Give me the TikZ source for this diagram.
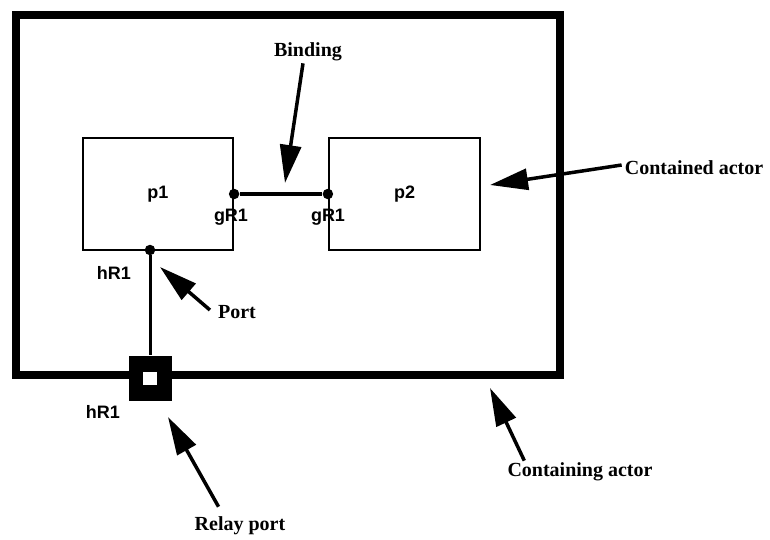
\documentclass[tikz,border=0pt]{standalone}
\usepackage{fontspec}
\setmainfont{Liberation Serif}
\setsansfont{Liberation Sans}
\usetikzlibrary{arrows.meta}
\begin{document}
\begin{tikzpicture}[x=1pt,y=-1pt,
  actorbox/.style={draw, line width=2.2pt, minimum height=112pt, inner sep=0,
    font=\sffamily\bfseries\fontsize{18}{18}\selectfont},
  portdot/.style={circle, fill=black, inner sep=0, minimum size=10.5pt},
  plabel/.style={font=\sffamily\bfseries\fontsize{18}{18}\selectfont, inner sep=0},
  callout/.style={font=\bfseries\fontsize{20}{20}\selectfont, inner sep=0},
  pointer/.style={line width=3.5pt, -{Triangle[length=38pt,width=21pt]}},
]
\useasboundingbox (0,0) rectangle (770,540);
% containing actor
\node[draw, line width=8pt, minimum width=544pt, minimum height=360pt, inner sep=0] (outer) at (288,195) {};
% contained actors
\node[actorbox, minimum width=150pt] (p1) at (158,194) {p1};
\node[actorbox, minimum width=151pt] (p2) at (404.5,194) {p2};
% port labels
\node[plabel] (gl1) at (231,217) {gR1};
\node[plabel] (gl2) at (328,217) {gR1};
\node[plabel] (hl1) at (114,273) {hR1};
\node[plabel] (hl2) at (103,412) {hR1};
% ports
\node[portdot] (g1) at (p1.east) {};
\node[portdot] (g2) at (p2.west) {};
\node[portdot] (h1) at (150,250) {};
% relay port
\node[fill=black, minimum width=43pt, minimum height=45pt, inner sep=0] (relay) at (150,378) {};
\node[fill=white, minimum width=14pt, minimum height=13pt, inner sep=0] (relayin) at (150,378.5) {};
% binding and link
\draw[line width=4pt] (g1) -- (g2);
\draw[line width=3pt] (h1) -- (relay);
% callouts
\node[callout] (binding) at (308,52) {Binding};
\node[callout] (contained) at (694,168) {Contained actor};
\node[callout] (containing) at (580,472) {Containing actor};
\node[callout] (relaylab) at (240,526) {Relay port};
\node[callout] (portlab) at (237,312) {Port};
\coordinate (bindtip) at (285,183);
\coordinate (ctip) at (490,185);
\coordinate (ctgtip) at (490,388);
\coordinate (rtip) at (168,417);
\coordinate (ptip) at (160,267);
\draw[pointer] ([xshift=-5pt,yshift=-2pt]binding.south) -- (bindtip);
\draw[pointer] ([xshift=-3pt,yshift=3pt]contained.west) -- (ctip);
\draw[pointer] ([xshift=17pt,yshift=2pt]containing.north west) -- (ctgtip);
\draw[pointer] ([xshift=24pt,yshift=10pt]relaylab.north west) -- (rtip);
\draw[pointer] ([xshift=-8pt,yshift=2pt]portlab.west) -- (ptip);
\end{tikzpicture}
\end{document}
